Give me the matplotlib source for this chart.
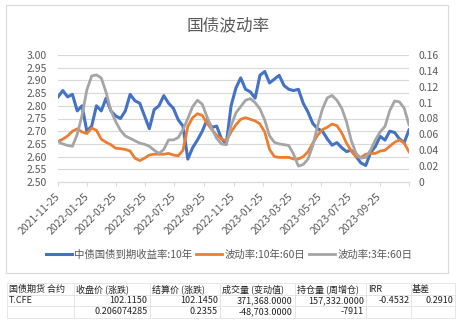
import matplotlib
matplotlib.use("Agg")
import matplotlib.pyplot as plt
from matplotlib.patches import Rectangle
import pandas as pd

plt.rcParams['font.family'] = ['Noto Sans CJK SC', 'DejaVu Sans']

# ---- data (one point every 10 days) ----
dates = pd.date_range("2021-11-25", periods=74, freq="10D")

yield_10y = [2.835, 2.86, 2.835, 2.845, 2.78, 2.80, 2.70, 2.72, 2.80, 2.78,
             2.83, 2.78, 2.76, 2.75, 2.78, 2.845, 2.82, 2.81, 2.76, 2.71,
             2.785, 2.80, 2.84, 2.81, 2.79, 2.745, 2.72, 2.59, 2.635, 2.665,
             2.70, 2.745, 2.715, 2.72, 2.67, 2.65, 2.80, 2.87, 2.91, 2.865,
             2.855, 2.83, 2.92, 2.935, 2.89, 2.905, 2.92, 2.88, 2.865, 2.86,
             2.865, 2.81, 2.775, 2.73, 2.71, 2.70, 2.67, 2.645, 2.655, 2.635,
             2.62, 2.625, 2.60, 2.575, 2.565, 2.615, 2.64, 2.68, 2.665, 2.70,
             2.695, 2.67, 2.655, 2.705]

vol_10y_60d = [0.051, 0.054, 0.058, 0.064, 0.067, 0.063, 0.061, 0.068, 0.065, 0.054,
               0.050, 0.047, 0.0425, 0.042, 0.041, 0.039, 0.030, 0.027, 0.030, 0.034,
               0.035, 0.035, 0.035, 0.036, 0.034, 0.033, 0.040, 0.070, 0.081, 0.086,
               0.084, 0.074, 0.066, 0.059, 0.054, 0.052, 0.063, 0.072, 0.079, 0.081,
               0.079, 0.077, 0.073, 0.063, 0.041, 0.032, 0.031, 0.031, 0.031, 0.029,
               0.029, 0.032, 0.038, 0.049, 0.059, 0.066, 0.069, 0.073, 0.071, 0.062,
               0.049, 0.039, 0.032, 0.031, 0.035, 0.036, 0.036, 0.039, 0.040, 0.045,
               0.050, 0.053, 0.049, 0.038]

vol_3y_60d = [0.051, 0.048, 0.046, 0.045, 0.060, 0.084, 0.116, 0.1336, 0.135, 0.131,
              0.113, 0.090, 0.076, 0.065, 0.058, 0.055, 0.052, 0.049, 0.0475, 0.045,
              0.040, 0.036, 0.041, 0.053, 0.053, 0.056, 0.066, 0.080, 0.095, 0.103,
              0.098, 0.082, 0.067, 0.055, 0.048, 0.047, 0.071, 0.087, 0.095, 0.103,
              0.105, 0.100, 0.092, 0.078, 0.058, 0.050, 0.048, 0.047, 0.046, 0.035,
              0.020, 0.022, 0.029, 0.046, 0.071, 0.092, 0.106, 0.109, 0.103, 0.093,
              0.076, 0.052, 0.036, 0.030, 0.031, 0.040, 0.053, 0.063, 0.070, 0.090,
              0.102, 0.101, 0.093, 0.072]

series_names = ["中债国债到期收益率:10年", "波动率:10年:60日", "波动率:3年:60日"]

left_ticks = [2.50, 2.55, 2.60, 2.65, 2.70, 2.75, 2.80, 2.85, 2.90, 2.95, 3.00]
right_ticks = [0, 0.02, 0.04, 0.06, 0.08, 0.10, 0.12, 0.14, 0.16]
right_labels = ["0", "0.02", "0.04", "0.06", "0.08", "0.1", "0.12", "0.14", "0.16"]
xtick_dates = pd.date_range("2021-11-01", "2023-11-01", freq="2MS") + pd.Timedelta(days=24)
xtick_labels = [d.strftime("%Y-%m-%d") for d in xtick_dates[:-1]] + [""]

table_header = ["国债期货 合约", "收盘价 (涨跌)", "结算价 (涨跌)", "成交量 (变动值)",
                "持仓量 (周增仓)", "IRR", "基差"]
table_rows = [["T.CFE", "102.1150", "102.1450", "371,368.0000", "157,332.0000", "-0.4532", "0.2910"],
              ["", "0.206074285", "0.2355", "-48,703.0000", "-7911", "", ""]]

BLUE, ORANGE, GREY = "#4472C4", "#ED7D31", "#A5A5A5"
TXT, GRID = "#595959", "#D9D9D9"
W, H = 458, 332

fig = plt.figure(figsize=(W / 100, H / 100), dpi=100)
fig.patches.append(Rectangle((6 / W, 1 - 273 / H), 442 / W, 268 / H, transform=fig.transFigure,
                             fill=False, edgecolor=GRID, lw=0.8))
fig.text(228 / W, 1 - 26 / H, "国债波动率", ha="center", va="center", fontsize=12, color=TXT)

ax = fig.add_axes([58 / W, 1 - 182 / H, 351 / W, 127 / H])
ax2 = ax.twinx()

l1, = ax.plot(dates, yield_10y, color=BLUE, lw=2.2, solid_joinstyle="round")
l2, = ax2.plot(dates, vol_10y_60d, color=ORANGE, lw=2.0, solid_joinstyle="round")
l3, = ax2.plot(dates, vol_3y_60d, color=GREY, lw=2.0, solid_joinstyle="round")

ax.set_xlim(pd.Timestamp("2021-11-25"), pd.Timestamp("2023-11-25"))
ax.set_ylim(2.5, 3.0)
ax2.set_ylim(0, 0.16)
ax.set_yticks(left_ticks)
ax.set_yticklabels([f"{v:.2f}" for v in left_ticks])
ax2.set_yticks(right_ticks)
ax2.set_yticklabels(right_labels)
ax.grid(axis="y", color=GRID, lw=0.8)
ax.set_axisbelow(True)

ax.set_xticks(xtick_dates)
ax.set_xticklabels(xtick_labels, rotation=45, ha="right", va="center", rotation_mode="anchor")
ax.tick_params(axis="x", length=3, color=GRID, labelsize=7.5, labelcolor=TXT, pad=6)
ax.tick_params(axis="y", length=0, labelsize=7.5, labelcolor=TXT, pad=8)
ax2.tick_params(axis="y", length=0, labelsize=7.5, labelcolor=TXT, pad=7)
for a in (ax, ax2):
    for s in ("top", "left", "right"):
        a.spines[s].set_visible(False)
    a.spines["bottom"].set_color(GRID)

fig.legend([l1, l2, l3], series_names, loc="center", bbox_to_anchor=(229 / W, 1 - 255 / H),
           ncol=3, frameon=False, fontsize=7.5, handlelength=2.5, handletextpad=0.2,
           columnspacing=0.4, labelcolor=TXT)

# ---- futures table under the chart ----
axt = fig.add_axes([6.7 / W, 1 - 317.7 / H, 448 / W, 34.4 / H])
axt.axis("off")
col_w = [67.3, 76, 70, 74.7, 71.6, 44.4, 44]
tbl = axt.table(cellText=table_rows, colLabels=table_header, colWidths=[c / sum(col_w) for c in col_w],
                cellLoc="right", colLoc="left", bbox=[0, 0, 1, 1])
tbl.auto_set_font_size(False)
tbl.set_fontsize(6.5)
for (r, c), cell in tbl.get_celld().items():
    cell.set_edgecolor("#E3E3E3")
    cell.set_linewidth(0.6)
    cell.PAD = 0.03
    cell.get_text().set_color("#222222")
    if c == 0:
        cell._loc = "left"
        cell.get_text().set_ha("left")

fig.savefig("out.png", dpi=100)
